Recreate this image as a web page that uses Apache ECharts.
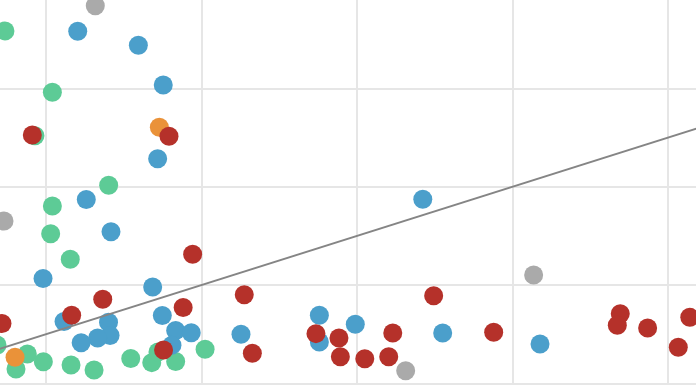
<!DOCTYPE html>
<html>
<head>
<meta charset="utf-8">
<script src="https://cdn.jsdelivr.net/npm/echarts@6/dist/echarts.min.js"></script>
<style>
html,body{margin:0;padding:0;background:#fff;}
#chart{width:696px;height:385px;}
</style>
</head>
<body>
<div id="chart"></div>
<script>
// Data values [x, y]
var greenPoints = [
  [7.36,35.85],[10.41,29.61],[9.29,25.20],[14.03,20.15],[10.41,18.05],[10.30,15.23],
  [11.56,12.62],[6.85,3.91],[8.80,2.99],[8.07,1.46],[9.83,2.21],[11.61,1.87],
  [13.09,1.36],[15.45,2.53],[16.80,2.11],[18.34,2.23],[20.23,3.47],[17.20,3.19]
];
var grayPoints = [
  [13.17,38.42],[7.30,16.52],[33.13,1.29],[41.36,11.03]
];
var bluePoints = [
  [12.04,35.82],[15.94,34.39],[17.54,30.36],[17.18,22.86],[12.59,18.71],[14.18,15.43],
  [9.81,10.67],[16.86,9.81],[11.16,6.30],[17.48,6.91],[14.02,6.22],[18.34,5.38],
  [19.34,5.15],[14.12,4.87],[13.32,4.62],[12.26,4.14],[18.10,3.89],[34.23,18.73],
  [27.58,6.93],[29.89,6.01],[22.54,4.99],[27.58,4.21],[35.51,5.13],[41.77,4.01]
];
var orangePoints = [
  [17.29,26.05],[8.01,2.66]
];
var redPoints = [
  [9.12,25.27],[17.91,25.14],[19.43,13.13],[13.65,8.56],[7.17,6.09],[11.65,6.94],
  [18.82,7.72],[17.56,3.40],[22.75,9.02],[34.93,8.92],[27.36,5.06],[28.84,4.62],
  [32.30,5.13],[23.27,3.06],[28.93,2.72],[30.50,2.51],[32.04,2.72],[38.79,5.20],
  [46.93,7.09],[46.74,5.91],[48.69,5.64],[51.40,6.72],[50.66,3.67]
];
var trendLine = [[0,0],[60,30]];
var xTicks = [10,20,30,40,50];
var yTicks = [0,10,20,30];

var chart = echarts.init(document.getElementById('chart'), null, {renderer:'canvas'});
function sc(name, data, color, z){
  return {type:'scatter', name:name, data:data, symbolSize:19, z:z, clip:false,
    itemStyle:{color:color, opacity:1}, emphasis:{disabled:true}, animation:false};
}
chart.setOption({
  animation:false,
  backgroundColor:'#ffffff',
  grid:{left:0, right:0, top:0, bottom:0, containLabel:false},
  xAxis:{type:'value', min:7.042, max:51.80,
    axisLine:{show:false}, axisTick:{show:false, customValues:xTicks},
    axisLabel:{show:false, customValues:xTicks},
    splitLine:{show:true, lineStyle:{color:'#e6e6e6', width:2}}},
  yAxis:{type:'value', min:-0.163, max:39.00,
    axisLine:{show:false}, axisTick:{show:false, customValues:yTicks},
    axisLabel:{show:false, customValues:yTicks},
    splitLine:{show:true, lineStyle:{color:'#e6e6e6', width:2}}},
  series:[
    sc('green', greenPoints, '#5dcb96', 2),
    sc('gray', grayPoints, '#aaaaaa', 3),
    sc('blue', bluePoints, '#4b9fcb', 4),
    sc('orange', orangePoints, '#ea9239', 5),
    sc('red', redPoints, '#b5312a', 6),
    {type:'line', data:trendLine, symbol:'none', z:10, silent:true, clip:true,
     lineStyle:{color:'#858585', width:1.8}, animation:false}
  ]
});
</script>
</body>
</html>
